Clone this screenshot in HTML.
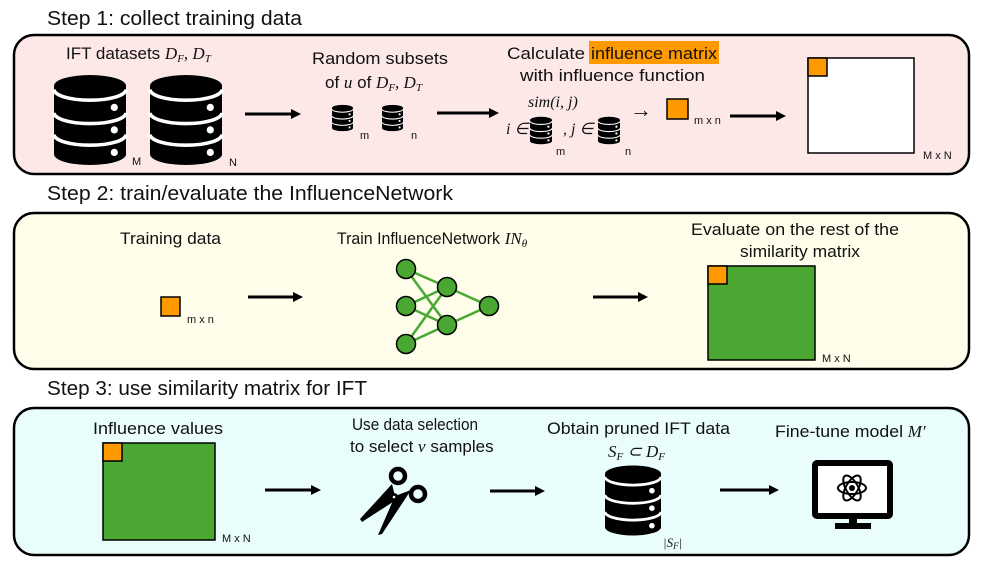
<!DOCTYPE html>
<html><head><meta charset="utf-8"><style>
html,body{margin:0;padding:0;background:#fff;}
svg text{font-family:"Liberation Sans",sans-serif;fill:#111;}
.m{font-family:"Liberation Serif",serif;font-style:italic;}
</style></head><body>
<svg width="996" height="561" viewBox="0 0 996 561" xmlns="http://www.w3.org/2000/svg">
<defs>
<symbol id="db" viewBox="0 0 80 100">
<path d="M0,12 A40,12 0 0 1 80,12 V88 A40,12 0 0 1 0,88 Z" fill="#000"/>
<path d="M0,16 A40,12 0 0 0 80,16" stroke="#fff" stroke-width="4" fill="none"/>
<path d="M0,42 A40,12 0 0 0 80,42" stroke="#fff" stroke-width="4" fill="none"/>
<path d="M0,66 A40,12 0 0 0 80,66" stroke="#fff" stroke-width="4" fill="none"/>
<circle cx="67" cy="36" r="4" fill="#fff"/><circle cx="67" cy="61" r="4" fill="#fff"/><circle cx="67" cy="86" r="4" fill="#fff"/>
</symbol>
<marker id="ah" markerWidth="10" markerHeight="10" refX="7" refY="5" orient="auto" markerUnits="userSpaceOnUse"><path d="M0,0 L10,5 L0,10 Z" fill="#000"/></marker>
</defs>

<text x="47" y="25" font-size="20" textLength="255" lengthAdjust="spacingAndGlyphs">Step 1: collect training data</text>
<rect x="14" y="35" width="955" height="139" rx="20" fill="#fde8e8" stroke="#000" stroke-width="2.5"/>
<text x="47" y="200" font-size="20" textLength="406" lengthAdjust="spacingAndGlyphs">Step 2: train/evaluate the InfluenceNetwork</text>
<rect x="14" y="213" width="955" height="156" rx="20" fill="#fefeea" stroke="#000" stroke-width="2.5"/>
<text x="47" y="395" font-size="20" textLength="320" lengthAdjust="spacingAndGlyphs">Step 3: use similarity matrix for IFT</text>
<rect x="14" y="408" width="955" height="147" rx="20" fill="#eafdfd" stroke="#000" stroke-width="2.5"/>

<!-- Step 1 -->
<text x="66" y="59" font-size="17">IFT datasets <tspan class="m">D<tspan font-size="11" dy="3">F</tspan><tspan dy="-3">, D</tspan><tspan font-size="11" dy="3">T</tspan></tspan></text>
<use href="#db" x="52" y="75" width="76" height="90"/>
<use href="#db" x="148" y="75" width="76" height="90"/>
<text x="132" y="165" font-size="11">M</text>
<text x="229" y="166" font-size="11">N</text>
<line x1="245" y1="114" x2="298" y2="114" stroke="#000" stroke-width="3" marker-end="url(#ah)"/>
<text x="312" y="64" font-size="17" textLength="136" lengthAdjust="spacingAndGlyphs">Random subsets</text>
<text x="325" y="88" font-size="17">of <tspan class="m">u</tspan> of <tspan class="m">D<tspan font-size="11" dy="3">F</tspan><tspan dy="-3">, D</tspan><tspan font-size="11" dy="3">T</tspan></tspan></text>
<use href="#db" x="332" y="104" width="21" height="28"/>
<text x="360" y="139" font-size="11">m</text>
<use href="#db" x="382" y="104" width="21" height="28"/>
<text x="411" y="139" font-size="11">n</text>
<line x1="437" y1="113" x2="496" y2="113" stroke="#000" stroke-width="3" marker-end="url(#ah)"/>
<rect x="589" y="41" width="130" height="23" fill="#ff9900"/>
<text x="507" y="59" font-size="17" textLength="78" lengthAdjust="spacingAndGlyphs">Calculate</text>
<text x="591" y="59" font-size="17" textLength="126" lengthAdjust="spacingAndGlyphs">influence matrix</text>
<text x="520" y="81" font-size="17" textLength="185" lengthAdjust="spacingAndGlyphs">with influence function</text>
<text x="528" y="107" font-size="16" class="m">sim(i, j)</text>
<text x="506" y="134" font-size="16" class="m">i ∈</text>
<use href="#db" x="530" y="115" width="22" height="31"/>
<text x="556" y="155" font-size="11">m</text>
<text x="563" y="134" font-size="16" class="m">, j ∈</text>
<use href="#db" x="598" y="115" width="22" height="31"/>
<text x="625" y="155" font-size="11">n</text>
<text x="630" y="117" font-size="22">→</text>
<rect x="667" y="99" width="21" height="20" fill="#ff9900" stroke="#000" stroke-width="1.5"/>
<text x="694" y="124" font-size="11">m x n</text>
<line x1="730" y1="116" x2="783" y2="116" stroke="#000" stroke-width="3" marker-end="url(#ah)"/>
<rect x="808" y="58" width="106" height="95" fill="#fff" stroke="#000" stroke-width="1.5"/>
<rect x="808" y="58" width="19" height="18" fill="#ff9900" stroke="#000" stroke-width="1.5"/>
<text x="923" y="159" font-size="11">M x N</text>

<!-- Step 2 -->
<text x="120" y="244" font-size="17" textLength="101" lengthAdjust="spacingAndGlyphs">Training data</text>
<rect x="161" y="297" width="19" height="19" fill="#ff9900" stroke="#000" stroke-width="1.5"/>
<text x="187" y="323" font-size="11">m x n</text>
<line x1="248" y1="297" x2="300" y2="297" stroke="#000" stroke-width="3" marker-end="url(#ah)"/>
<text x="337" y="244" font-size="17"><tspan textLength="163" lengthAdjust="spacingAndGlyphs">Train InfluenceNetwork</tspan> <tspan class="m">IN<tspan font-size="11" dy="3">θ</tspan></tspan></text>
<g stroke="#4aa832" stroke-width="2.5">
<line x1="406" y1="269" x2="447" y2="287"/><line x1="406" y1="269" x2="447" y2="325"/>
<line x1="406" y1="306" x2="447" y2="287"/><line x1="406" y1="306" x2="447" y2="325"/>
<line x1="406" y1="344" x2="447" y2="287"/><line x1="406" y1="344" x2="447" y2="325"/>
<line x1="447" y1="287" x2="489" y2="306"/><line x1="447" y1="325" x2="489" y2="306"/>
</g>
<g fill="#4aa832" stroke="#000" stroke-width="1.5">
<circle cx="406" cy="269" r="9.5"/><circle cx="406" cy="306" r="9.5"/><circle cx="406" cy="344" r="9.5"/>
<circle cx="447" cy="287" r="9.5"/><circle cx="447" cy="325" r="9.5"/><circle cx="489" cy="306" r="9.5"/>
</g>
<line x1="593" y1="297" x2="645" y2="297" stroke="#000" stroke-width="3" marker-end="url(#ah)"/>
<text x="691" y="235" font-size="17" textLength="208" lengthAdjust="spacingAndGlyphs">Evaluate on the rest of the</text>
<text x="740" y="257" font-size="17" textLength="120" lengthAdjust="spacingAndGlyphs">similarity matrix</text>
<rect x="708" y="266" width="107" height="94" fill="#4aa832" stroke="#000" stroke-width="1.5"/>
<rect x="708" y="266" width="19" height="18" fill="#ff9900" stroke="#000" stroke-width="1.5"/>
<text x="822" y="362" font-size="11">M x N</text>

<!-- Step 3 -->
<text x="93" y="434" font-size="17" textLength="130" lengthAdjust="spacingAndGlyphs">Influence values</text>
<rect x="103" y="443" width="112" height="97" fill="#4aa832" stroke="#000" stroke-width="1.5"/>
<rect x="103" y="443" width="19" height="18" fill="#ff9900" stroke="#000" stroke-width="1.5"/>
<text x="222" y="542" font-size="11">M x N</text>
<line x1="265" y1="490" x2="318" y2="490" stroke="#000" stroke-width="3" marker-end="url(#ah)"/>
<text x="352" y="430" font-size="17" textLength="126" lengthAdjust="spacingAndGlyphs">Use data selection</text>
<text x="350" y="452" font-size="17">to select <tspan class="m">v</tspan> samples</text>
<!-- scissors -->
<circle cx="398" cy="476" r="7" fill="none" stroke="#000" stroke-width="4.5"/>
<circle cx="418" cy="494" r="7" fill="none" stroke="#000" stroke-width="4.5"/>
<path d="M392,484 L396,500 L362,522 L360,519 Z" fill="#000"/>
<path d="M411,490 L395,496 L378,535 L382,534 Z" fill="#000"/>
<circle cx="394" cy="497" r="4" fill="#000"/>
<circle cx="394" cy="497" r="1.3" fill="#fff"/>
<line x1="490" y1="491" x2="542" y2="491" stroke="#000" stroke-width="3" marker-end="url(#ah)"/>
<text x="547" y="434" font-size="17" textLength="183" lengthAdjust="spacingAndGlyphs">Obtain pruned IFT data</text>
<text x="608" y="457" font-size="17" class="m">S<tspan font-size="11" dy="3">F</tspan><tspan dy="-3"> ⊂ D</tspan><tspan font-size="11" dy="3">F</tspan></text>
<use href="#db" x="605" y="465" width="56" height="71"/>
<text x="663" y="547" font-size="13" class="m">|S<tspan font-size="9" dy="2">F</tspan><tspan dy="-2">|</tspan></text>
<line x1="720" y1="490" x2="776" y2="490" stroke="#000" stroke-width="3" marker-end="url(#ah)"/>
<text x="775" y="437" font-size="17"><tspan textLength="128" lengthAdjust="spacingAndGlyphs">Fine-tune model</tspan> <tspan class="m">M′</tspan></text>
<rect x="815" y="463" width="75" height="53" rx="2" fill="#fff" stroke="#000" stroke-width="6"/>
<rect x="849" y="518" width="8" height="7" fill="#000"/>
<rect x="835" y="523" width="36" height="6" fill="#000"/>
<g fill="none" stroke="#000" stroke-width="2">
<ellipse cx="852" cy="488" rx="14" ry="6"/>
<ellipse cx="852" cy="488" rx="14" ry="6" transform="rotate(60 852 488)"/>
<ellipse cx="852" cy="488" rx="14" ry="6" transform="rotate(120 852 488)"/>
</g>
<circle cx="852" cy="488" r="3" fill="#000"/>
</svg>
</body></html>
